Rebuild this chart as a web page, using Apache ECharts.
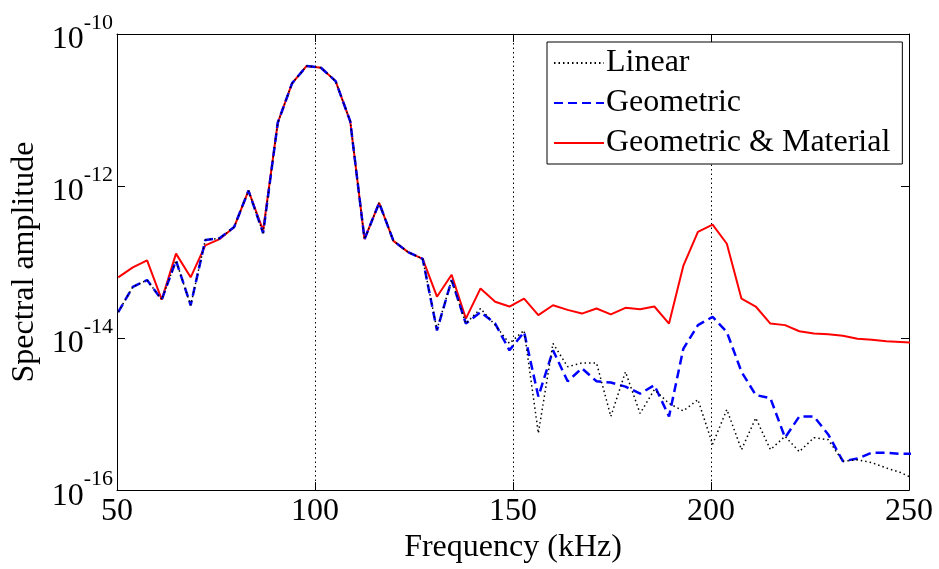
<!DOCTYPE html>
<html>
<head>
<meta charset="utf-8">
<script src="https://cdn.jsdelivr.net/npm/echarts@6/dist/echarts.min.js"></script>
<style>
html,body{margin:0;padding:0;background:#fff;}
#chart{width:939px;height:569px;}
</style>
</head>
<body>
<div id="chart"></div>
<script>
// Frequency samples (kHz)
const freq = [50.3, 54.0, 57.6, 61.3, 64.9, 68.6, 72.3, 75.9, 79.6, 83.2,
  86.9, 90.6, 94.2, 97.9, 101.5, 105.2, 108.9, 112.5, 116.2, 119.8,
  123.5, 127.2, 130.8, 134.5, 138.1, 141.8, 145.5, 149.1, 152.8, 156.4,
  160.1, 163.8, 167.4, 171.1, 174.7, 178.4, 182.1, 185.7, 189.4, 193.0,
  196.7, 200.4, 204.0, 207.7, 211.3, 215.0, 218.7, 222.3, 226.0, 229.6,
  233.3, 237.0, 240.6, 244.3, 247.9, 251.6];

const linearVals = [2.2e-14, 4.7e-14, 5.8e-14, 3.2e-14, 1.05e-13, 2.7e-14, 1.95e-13, 2.05e-13, 2.9e-13, 8.7e-13,
  2.4e-13, 6.8e-12, 2.24e-11, 3.8e-11, 3.6e-11, 2.4e-11, 7.1e-12, 2.0e-13, 6.0e-13, 1.9e-13,
  1.35e-13, 1.1e-13, 1.3e-14, 5.8e-14, 1.55e-14, 2.45e-14, 1.48e-14, 8.5e-15, 1.26e-14, 5.6e-16,
  8.5e-15, 4.2e-15, 4.7e-15, 4.7e-15, 9.3e-16, 3.6e-15, 1.02e-15, 2.1e-15, 1.38e-15, 1.1e-15,
  1.55e-15, 4.0e-16, 1.15e-15, 3.4e-16, 8.9e-16, 3.4e-16, 5.1e-16, 3.2e-16, 4.9e-16, 4.6e-16,
  2.4e-16, 2.5e-16, 2.3e-16, 1.95e-16, 1.7e-16, 1.38e-16];

const geometricVals = [2.2e-14, 4.7e-14, 5.8e-14, 3.2e-14, 1.05e-13, 2.7e-14, 1.95e-13, 2.05e-13, 2.9e-13, 8.7e-13,
  2.4e-13, 6.8e-12, 2.24e-11, 3.8e-11, 3.6e-11, 2.4e-11, 7.1e-12, 2.0e-13, 6.0e-13, 1.9e-13,
  1.35e-13, 1.1e-13, 1.26e-14, 5.8e-14, 1.55e-14, 2.2e-14, 1.55e-14, 6.9e-15, 1.2e-14, 1.7e-15,
  6.9e-15, 2.7e-15, 4.0e-15, 2.7e-15, 2.6e-15, 2.3e-15, 1.86e-15, 2.4e-15, 9.3e-16, 7.2e-15,
  1.48e-14, 1.9e-14, 1.2e-14, 3.6e-15, 1.78e-15, 1.62e-15, 4.9e-16, 9.3e-16, 9.3e-16, 5.4e-16,
  2.4e-16, 2.6e-16, 3.1e-16, 3.1e-16, 3.0e-16, 3.0e-16];

const geomMatVals = [6.3e-14, 8.5e-14, 1.05e-13, 3.2e-14, 1.29e-13, 6.3e-14, 1.66e-13, 2.0e-13, 2.9e-13, 8.7e-13,
  2.6e-13, 6.8e-12, 2.24e-11, 3.8e-11, 3.6e-11, 2.4e-11, 7.1e-12, 2.0e-13, 6.0e-13, 1.9e-13,
  1.35e-13, 1.1e-13, 3.5e-14, 6.8e-14, 1.8e-14, 4.5e-14, 3.0e-14, 2.6e-14, 3.3e-14, 2.0e-14,
  2.7e-14, 2.35e-14, 2.1e-14, 2.45e-14, 2.05e-14, 2.5e-14, 2.4e-14, 2.6e-14, 1.55e-14, 8.9e-14,
  2.5e-13, 3.1e-13, 1.74e-13, 3.3e-14, 2.6e-14, 1.55e-14, 1.48e-14, 1.23e-14, 1.15e-14, 1.12e-14,
  1.07e-14, 9.8e-15, 9.5e-15, 9.1e-15, 8.9e-15, 8.7e-15];

const seriesNames = ['Linear', 'Geometric', 'Geometric & Material'];
const xTicks = [50, 100, 150, 200, 250];
const yTickExps = [-16, -14, -12, -10];

const FONT = 'Liberation Serif';

function pairs(vals) { return freq.map((f, i) => [f, vals[i]]); }

const chart = echarts.init(document.getElementById('chart'), null, {renderer: 'canvas'});

const commonX = {
  type: 'value', min: xTicks[0], max: xTicks[xTicks.length - 1], interval: 50,
  axisLine: {show: true, onZero: false, lineStyle: {color: '#000', width: 1}},
  axisTick: {show: true, inside: true, length: 8, lineStyle: {color: '#000'}},
};
const commonY = {
  type: 'log', logBase: 100,
  min: Math.pow(10, yTickExps[0]), max: Math.pow(10, yTickExps[yTickExps.length - 1]),
  axisLine: {show: true, onZero: false, lineStyle: {color: '#000', width: 1}},
  axisTick: {show: true, inside: true, length: 8, lineStyle: {color: '#000'}},
  splitLine: {show: false}
};

const option = {
  backgroundColor: '#fff',
  animation: false,
  grid: {left: 117, right: 30, top: 34, bottom: 77, containLabel: false},
  legend: {
    data: seriesNames,
    orient: 'vertical',
    left: 547, top: 42,
    itemWidth: 50, itemHeight: 20, itemGap: 8,
    padding: [5, 12, 5, 6],
    backgroundColor: '#fff',
    borderColor: '#000', borderWidth: 1,
    itemStyle: {opacity: 0},
    textStyle: {fontFamily: FONT, fontSize: 32, color: '#000', padding: [0, 0, 0, -3]},
    selectedMode: false
  },
  xAxis: [
    Object.assign({}, commonX, {
      position: 'bottom',
      name: 'Frequency (kHz)', nameLocation: 'middle', nameGap: 38,
      nameTextStyle: {fontFamily: FONT, fontSize: 32, color: '#000'},
      axisLabel: {show: true, margin: 5, fontFamily: FONT, fontSize: 32, color: '#000'},
      splitLine: {show: true, lineStyle: {color: '#000', width: 1, type: [1.5, 3]}}
    }),
    Object.assign({}, commonX, {
      position: 'top',
      axisLabel: {show: false},
      splitLine: {show: false}
    })
  ],
  yAxis: [
    Object.assign({}, commonY, {
      position: 'left',
      name: 'Spectral amplitude', nameLocation: 'middle', nameGap: 68,
      nameTextStyle: {fontFamily: FONT, fontSize: 32, color: '#000'},
      axisLabel: {
        show: true, margin: 4,
        formatter: function (v) {
          const e = Math.round(Math.log10(v));
          return '{b|10}{s|' + e + '}';
        },
        rich: {
          b: {fontFamily: FONT, fontSize: 32, color: '#000', padding: [12, 0, 0, 0]},
          s: {fontFamily: FONT, fontSize: 22, color: '#000', verticalAlign: 'top'}
        }
      }
    }),
    Object.assign({}, commonY, {
      position: 'right',
      axisLabel: {show: false}
    })
  ],
  series: [
    {
      name: 'Geometric & Material', type: 'line', data: pairs(geomMatVals),
      symbol: 'none', clip: true, z: 2,
      lineStyle: {color: '#ff0000', width: 2, type: 'solid'},
      itemStyle: {color: '#ff0000'}
    },
    {
      name: 'Geometric', type: 'line', data: pairs(geometricVals),
      symbol: 'none', clip: true, z: 3,
      lineStyle: {color: '#0000ff', width: 2.5, type: [9, 5]},
      itemStyle: {color: '#0000ff'}
    },
    {
      name: 'Linear', type: 'line', data: pairs(linearVals),
      symbol: 'none', clip: true, z: 4,
      lineStyle: {color: '#000', width: 1.5, type: [1.5, 3]},
      itemStyle: {color: '#000'}
    }
  ]
};
chart.setOption(option);
</script>
</body>
</html>
